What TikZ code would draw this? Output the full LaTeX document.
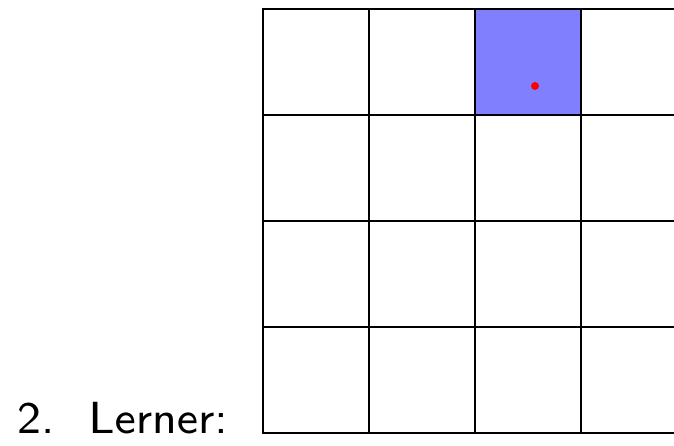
\documentclass[tikz,border=0pt]{standalone}
\usetikzlibrary{positioning}
\font\lblfont=cmss8 at 45pt
\begin{document}
\begin{tikzpicture}[x=1pt, y=1pt,
  cell/.style={draw, line width=1.4pt, minimum size=106pt, inner sep=0pt, outer sep=0pt},
  visited/.style={fill=blue!50, minimum size=106pt, inner sep=0pt, outer sep=0pt},
  agent/.style={circle, fill=red, inner sep=0pt, minimum size=8pt},
  lbl/.style={font=\lblfont, inner sep=0pt}]
\useasboundingbox (0,0) rectangle (674,445);
\clip (0,0) rectangle (674,445);
\node[visited] (v02) at (528,383) {};
\foreach \r in {0,...,3}
  \foreach \c in {0,...,4}
    \node[cell] (c\r\c) at ({316+106*\c},{383-106*\r}) {};
\node[agent] (bot) at (535,359) {};
\node[lbl, anchor=base west] (who) at (17,11.5) {2.\hspace{13pt} Lerner:};
\end{tikzpicture}
\end{document}
